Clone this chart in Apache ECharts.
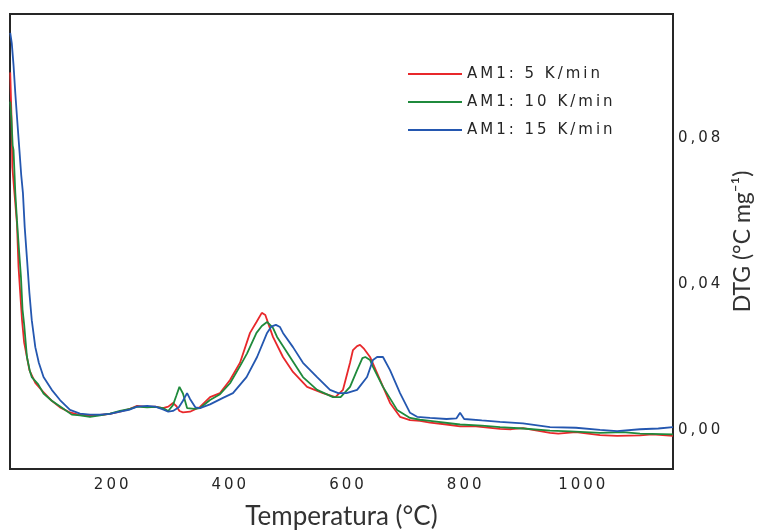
<!DOCTYPE html>
<html>
<head>
<meta charset="utf-8">
<script src="https://cdn.jsdelivr.net/npm/echarts@6/dist/echarts.min.js"></script>
<style>
  html, body { margin: 0; padding: 0; background: #ffffff; }
  #chart { width: 760px; height: 532px; }
</style>
</head>
<body>
<div id="chart"></div>
<script>
// DTG curves of sample AM1 at three heating rates (temperature in °C, DTG in °C mg⁻¹)
const seriesNames = ['AM1: 5 K/min', 'AM1: 10 K/min', 'AM1: 15 K/min'];
const seriesColors = ['#e8282b', '#1f8a3c', '#2457b0'];

const temp5 = [28.4, 30.5, 32, 35, 39.8, 42.5, 45.4, 48.5, 52, 56.8, 61, 71, 84, 99, 113, 130, 147, 164, 181, 198, 215, 232, 244, 261, 275, 288, 297, 305, 311, 316, 322, 334, 351, 368, 385, 402, 419, 436, 447, 456, 462, 475, 492, 509, 533, 560, 581, 594, 606, 611, 618, 623, 630, 640, 657, 674, 691, 708, 725, 742, 770, 793, 820, 861, 880, 900, 946, 960, 990, 1031, 1060, 1099, 1120, 1155];
const dtg5 = [0.098, 0.086, 0.072, 0.066, 0.0567, 0.0447, 0.0375, 0.030, 0.024, 0.020, 0.0164, 0.0129, 0.0105, 0.008, 0.0062, 0.0048, 0.0041, 0.0040, 0.0041, 0.0044, 0.0050, 0.0058, 0.0066, 0.0063, 0.0064, 0.0060, 0.0064, 0.0074, 0.0065, 0.0052, 0.0048, 0.0050, 0.0063, 0.0090, 0.0101, 0.0137, 0.0184, 0.0266, 0.0296, 0.0321, 0.0315, 0.0255, 0.0200, 0.0159, 0.0118, 0.0101, 0.0090, 0.0110, 0.0184, 0.0219, 0.0230, 0.0233, 0.0222, 0.0200, 0.0137, 0.0074, 0.0036, 0.0027, 0.0025, 0.0020, 0.0015, 0.0010, 0.0010, 0.0003, 0.0002, 0.0005, -0.0008, -0.0010, -0.0006, -0.0014, -0.0016, -0.0015, -0.0012, -0.0016];

const temp10 = [28.4, 30.5, 32.5, 34, 37, 39.8, 43, 46.6, 49.3, 52, 56.8, 62, 65, 76, 85, 99, 117, 133, 147, 164, 181, 198, 215, 232, 244, 261, 275, 288, 297, 305, 311, 316, 322, 329, 342, 351, 368, 385, 402, 419, 431, 447, 456, 465, 475, 482, 504, 526, 550, 577, 590, 606, 618, 627, 632, 640, 645, 662, 686, 708, 725, 742, 793, 830, 861, 900, 946, 980, 1031, 1070, 1099, 1155];
const dtg10 = [0.090, 0.085, 0.078, 0.0767, 0.065, 0.0575, 0.050, 0.042, 0.033, 0.029, 0.020, 0.016, 0.0145, 0.0125, 0.010, 0.008, 0.006, 0.0042, 0.0040, 0.0036, 0.0040, 0.0045, 0.0052, 0.0058, 0.0064, 0.0062, 0.0063, 0.0060, 0.0052, 0.0068, 0.0095, 0.0118, 0.0100, 0.0060, 0.0058, 0.0060, 0.0082, 0.0098, 0.0128, 0.0175, 0.0210, 0.0266, 0.0285, 0.0296, 0.0280, 0.0255, 0.0200, 0.0145, 0.0110, 0.0090, 0.0090, 0.0118, 0.0164, 0.0197, 0.0200, 0.0192, 0.0173, 0.0118, 0.0055, 0.0033, 0.0028, 0.0025, 0.0015, 0.0012, 0.0008, 0.0004, -0.0002, -0.0004, -0.0008, -0.0006, -0.0010, -0.0012];

const temp15 = [28.4, 31, 34, 37, 40, 44, 47, 50, 53, 57, 61, 65, 71, 77, 85, 99, 113, 130, 147, 164, 181, 198, 215, 232, 244, 261, 275, 288, 297, 305, 315, 322, 329, 334, 343, 351, 368, 390, 407, 430, 448, 465, 472, 480, 487, 492, 509, 526, 550, 572, 586, 600, 618, 635, 645, 652, 662, 674, 691, 708, 720, 742, 770, 787, 793, 800, 830, 861, 900, 946, 990, 1031, 1060, 1099, 1130, 1155];
const dtg15 = [0.1088, 0.106, 0.100, 0.0923, 0.0855, 0.0767, 0.070, 0.0649, 0.0556, 0.0466, 0.0375, 0.0301, 0.0227, 0.0184, 0.0145, 0.0110, 0.0082, 0.0055, 0.0045, 0.0042, 0.0042, 0.0044, 0.0050, 0.0056, 0.0064, 0.0066, 0.0064, 0.0056, 0.0050, 0.0052, 0.0062, 0.0080, 0.0101, 0.0085, 0.0062, 0.0060, 0.0070, 0.0088, 0.0101, 0.0145, 0.0200, 0.0266, 0.0283, 0.0288, 0.0282, 0.0266, 0.0227, 0.0184, 0.0145, 0.0110, 0.0101, 0.0101, 0.0110, 0.0145, 0.0192, 0.0200, 0.0200, 0.0164, 0.0101, 0.0047, 0.0036, 0.0033, 0.0030, 0.0032, 0.0047, 0.0030, 0.0026, 0.0022, 0.0018, 0.0008, 0.0006, 0.0000, -0.0003, 0.0002, 0.0004, 0.0008];

const xTicks = [200, 400, 600, 800, 1000];
const yTicks = [0, 0.04, 0.08];

const THIN = '\u2009';
const spaced = s => String(s).split('').join(THIN);

const pairs = (xs, ys) => xs.map((x, i) => [x, ys[i]]);
const curves = [pairs(temp5, dtg5), pairs(temp10, dtg10), pairs(temp15, dtg15)];

const chart = echarts.init(document.getElementById('chart'), null, { renderer: 'canvas' });

chart.setOption({
  animation: false,
  backgroundColor: '#ffffff',
  grid: {
    left: 10, right: 87, top: 14, bottom: 63,
    outerBoundsMode: 'none',
    containLabel: false,
    show: true, borderColor: '#262626', borderWidth: 2, backgroundColor: '#ffffff'
  },
  legend: {
    orient: 'vertical',
    left: 408, top: 65,
    padding: 0,
    itemGap: 10,
    itemWidth: 54, itemHeight: 2,
    icon: 'rect',
    data: seriesNames,
    formatter: name => spaced(name),
    textStyle: { fontFamily: 'DejaVu Sans', fontSize: 15, color: '#262626', lineHeight: 18 }
  },
  xAxis: {
    type: 'value',
    min: 28, max: 1155,
    name: 'Temperatura (°C)',
    nameLocation: 'middle',
    nameGap: 35,
    nameTextStyle: { fontFamily: 'Lato', fontSize: 26, color: '#333333' },
    axisLine: { show: false },
    axisTick: { show: false },
    splitLine: { show: false },
    axisLabel: {
      customValues: xTicks,
      margin: 9,
      formatter: v => spaced(v),
      fontFamily: 'DejaVu Sans', fontSize: 15, color: '#262626'
    }
  },
  yAxis: {
    type: 'value',
    position: 'right',
    min: -0.0107, max: 0.114,
    name: 'DTG (°C mg⁻¹)',
    nameLocation: 'middle',
    nameGap: 55,
    nameRotate: 90,
    nameTextStyle: { fontFamily: 'Lato', fontSize: 23, color: '#333333' },
    axisLine: { show: false },
    axisTick: { show: false },
    splitLine: { show: false },
    axisLabel: {
      customValues: yTicks,
      margin: 5,
      formatter: v => spaced(v.toFixed(2).replace('.', ',')),
      fontFamily: 'DejaVu Sans', fontSize: 15, color: '#262626'
    }
  },
  series: curves.map((data, i) => ({
    name: seriesNames[i],
    type: 'line',
    data: data,
    showSymbol: false,
    symbol: 'none',
    color: seriesColors[i],
    lineStyle: { width: 1.8, color: seriesColors[i] },
    clip: true
  }))
});
</script>
</body>
</html>
